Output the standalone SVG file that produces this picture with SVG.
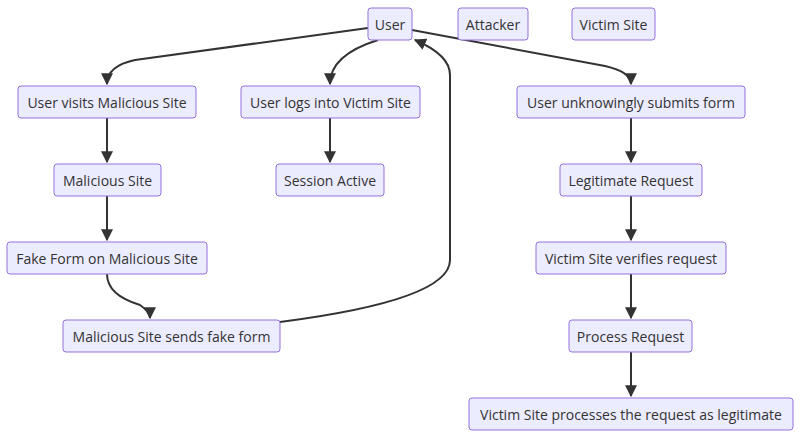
<svg xmlns="http://www.w3.org/2000/svg" width="800" height="439" viewBox="0 0 800 439">
<style>
.n rect{fill:#ECECFF;stroke:#9370DB;stroke-width:1}
.n text{font-family:"Open Sans","Liberation Sans",sans-serif;font-size:14px;fill:#333;text-anchor:middle;dominant-baseline:central}
.e path{fill:none;stroke:#333;stroke-width:2;marker-end:url(#a)}
</style>
<defs><marker id="a" viewBox="0 0 10 10" refX="9" refY="5" markerWidth="6" markerHeight="6" orient="auto"><path d="M0,0L10,5L0,10z" fill="#333"/></marker></defs>
<rect width="800" height="439" fill="#fff"/>
<g class="e">
<path d="M368,28 L135,60 Q107,66 107,84"/>
<path d="M378,40 Q330,55 330,84"/>
<path d="M412,30 L605,66 Q631,72 631,84"/>
<path d="M107,118 L107,162"/>
<path d="M330,118 L330,162"/>
<path d="M631,118 L631,162"/>
<path d="M107,196 L107,240"/>
<path d="M631,196 L631,240"/>
<path d="M107,274 Q107,295 140,305 Q150,312 150,318"/>
<path d="M631,274 L631,318"/>
<path d="M631,352 L631,396"/>
<path d="M280,322 Q450,300 450,260 L450,75 Q450,55 415,40"/>
</g>
<g id="user" class="n"><rect x="368" y="8" width="44" height="32" rx="3"/><text x="390" y="24">User</text></g>
<g id="attacker" class="n"><rect x="458" y="8" width="70" height="32" rx="3"/><text x="493" y="24">Attacker</text></g>
<g id="victim" class="n"><rect x="572" y="8" width="83" height="32" rx="3"/><text x="613.5" y="24">Victim Site</text></g>
<g id="visits" class="n"><rect x="18" y="86" width="178" height="32" rx="3"/><text x="107" y="102">User visits Malicious Site</text></g>
<g id="logs" class="n"><rect x="241" y="86" width="179" height="32" rx="3"/><text x="330.5" y="102">User logs into Victim Site</text></g>
<g id="submits" class="n"><rect x="517" y="86" width="228" height="32" rx="3"/><text x="631" y="102">User unknowingly submits form</text></g>
<g id="malsite" class="n"><rect x="54" y="164" width="107" height="32" rx="3"/><text x="107.5" y="180">Malicious Site</text></g>
<g id="session" class="n"><rect x="276" y="164" width="108" height="32" rx="3"/><text x="330" y="180">Session Active</text></g>
<g id="legit" class="n"><rect x="560" y="164" width="142" height="32" rx="3"/><text x="631" y="180">Legitimate Request</text></g>
<g id="fake" class="n"><rect x="7" y="242" width="200" height="32" rx="3"/><text x="107" y="258">Fake Form on Malicious Site</text></g>
<g id="verifies" class="n"><rect x="536" y="242" width="190" height="32" rx="3"/><text x="631" y="258">Victim Site verifies request</text></g>
<g id="sends" class="n"><rect x="63" y="320" width="217" height="32" rx="3"/><text x="171.5" y="336">Malicious Site sends fake form</text></g>
<g id="process" class="n"><rect x="569" y="320" width="123" height="32" rx="3"/><text x="630.5" y="336">Process Request</text></g>
<g id="processes" class="n"><rect x="469" y="398" width="324" height="32" rx="3"/><text x="631" y="414">Victim Site processes the request as legitimate</text></g>
</svg>
